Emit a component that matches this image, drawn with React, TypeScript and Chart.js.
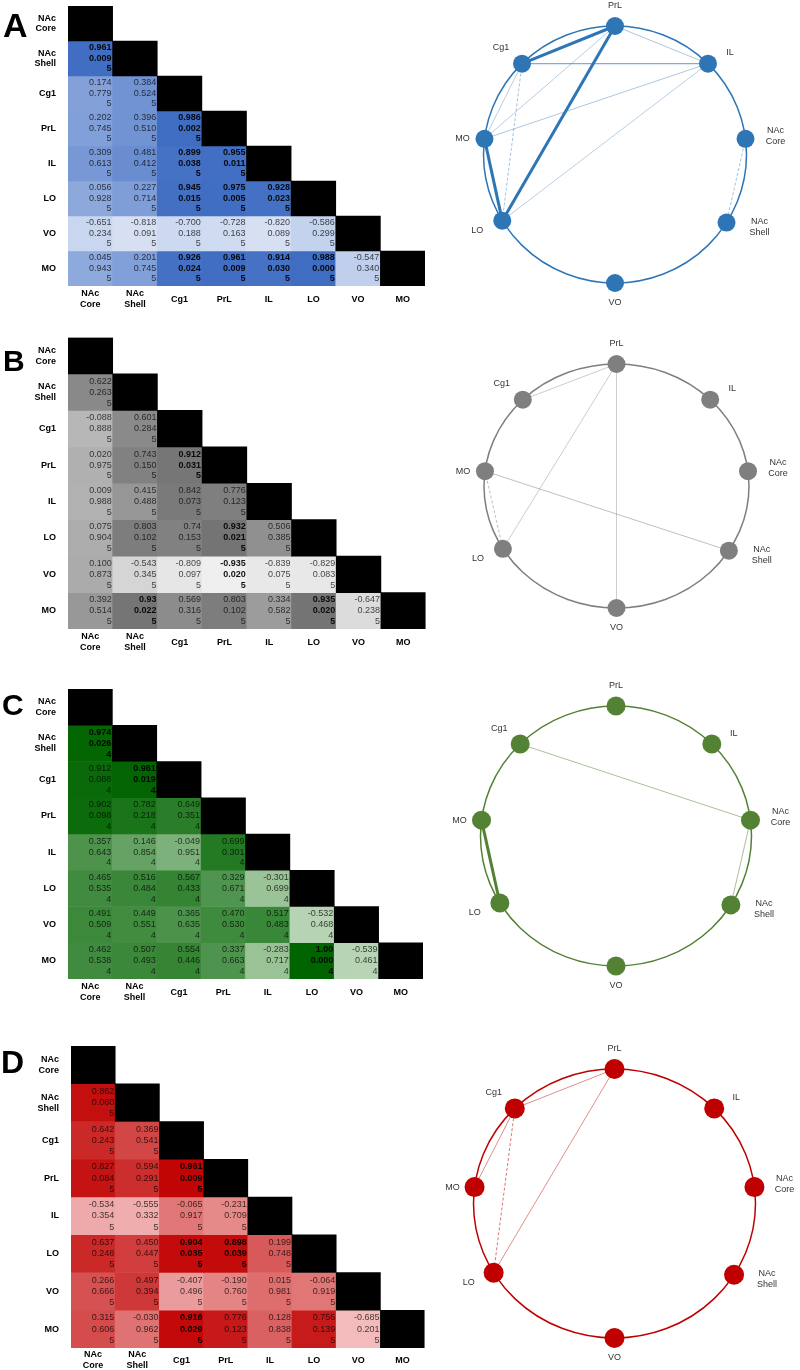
import React, { useEffect, useRef } from "react";
import { Chart, registerables } from "chart.js";
Chart.register(...registerables);

// ---------- DATA ----------
const regions = ["NAc Core", "NAc Shell", "Cg1", "PrL", "IL", "LO", "VO", "MO"];
const regionLines = [["NAc", "Core"], ["NAc", "Shell"], ["Cg1"], ["PrL"], ["IL"], ["LO"], ["VO"], ["MO"]];
// node angles on the ring (degrees), same order as regions
const nodeAngles = [7, -32, 135, 90, 45, 211, -90, 173];

const rA = [[], ["0.961"], ["0.174", "0.384"], ["0.202", "0.396", "0.986"], ["0.309", "0.481", "0.899", "0.955"],
  ["0.056", "0.227", "0.945", "0.975", "0.928"], ["-0.651", "-0.818", "-0.700", "-0.728", "-0.820", "-0.586"],
  ["0.045", "0.201", "0.926", "0.961", "0.914", "0.988", "-0.547"]];
const pA = [[], ["0.009"], ["0.779", "0.524"], ["0.745", "0.510", "0.002"], ["0.613", "0.412", "0.038", "0.011"],
  ["0.928", "0.714", "0.015", "0.005", "0.023"], ["0.234", "0.091", "0.188", "0.163", "0.089", "0.299"],
  ["0.943", "0.745", "0.024", "0.009", "0.030", "0.000", "0.340"]];
const nA = 5;

const rB = [[], ["0.622"], ["-0.088", "0.601"], ["0.020", "0.743", "0.912"], ["0.009", "0.415", "0.842", "0.776"],
  ["0.075", "0.803", "0.74", "0.932", "0.506"], ["0.100", "-0.543", "-0.809", "-0.935", "-0.839", "-0.829"],
  ["0.392", "0.93", "0.569", "0.803", "0.334", "0.935", "-0.647"]];
const pB = [[], ["0.263"], ["0.888", "0.284"], ["0.975", "0.150", "0.031"], ["0.988", "0.488", "0.073", "0.123"],
  ["0.904", "0.102", "0.153", "0.021", "0.385"], ["0.873", "0.345", "0.097", "0.020", "0.075", "0.083"],
  ["0.514", "0.022", "0.316", "0.102", "0.582", "0.020", "0.238"]];
const nB = 5;

const rC = [[], ["0.974"], ["0.912", "0.981"], ["0.902", "0.782", "0.649"], ["0.357", "0.146", "-0.049", "0.699"],
  ["0.465", "0.516", "0.567", "0.329", "-0.301"], ["0.491", "0.449", "0.365", "0.470", "0.517", "-0.532"],
  ["0.462", "0.507", "0.554", "0.337", "-0.283", "1.00", "-0.539"]];
const pC = [[], ["0.026"], ["0.088", "0.019"], ["0.098", "0.218", "0.351"], ["0.643", "0.854", "0.951", "0.301"],
  ["0.535", "0.484", "0.433", "0.671", "0.699"], ["0.509", "0.551", "0.635", "0.530", "0.483", "0.468"],
  ["0.538", "0.493", "0.446", "0.663", "0.717", "0.000", "0.461"]];
const nC = 4;

const rD = [[], ["0.862"], ["0.642", "0.369"], ["0.827", "0.594", "0.961"], ["-0.534", "-0.555", "-0.065", "-0.231"],
  ["0.637", "0.450", "0.904", "0.898", "0.199"], ["0.266", "0.497", "-0.407", "-0.190", "0.015", "-0.064"],
  ["0.315", "-0.030", "0.916", "0.776", "0.128", "0.756", "-0.685"]];
const pD = [[], ["0.060"], ["0.243", "0.541"], ["0.084", "0.291", "0.009"], ["0.354", "0.332", "0.917", "0.709"],
  ["0.248", "0.447", "0.035", "0.039", "0.748"], ["0.666", "0.394", "0.496", "0.760", "0.981", "0.919"],
  ["0.606", "0.962", "0.029", "0.123", "0.838", "0.139", "0.201"]];
const nD = 5;

// edges: [from, to, width, alpha, dashed]
const edgesA = [["PrL", "Cg1", 3, 1, 0], ["PrL", "LO", 3, 1, 0], ["MO", "LO", 3, 1, 0], ["Cg1", "IL", 1.2, 0.6, 0],
  ["PrL", "IL", 1, 0.4, 0], ["IL", "MO", 1, 0.4, 0], ["IL", "LO", 1, 0.35, 0], ["PrL", "MO", 1, 0.35, 0],
  ["Cg1", "MO", 1, 0.35, 0], ["Cg1", "LO", 1, 0.45, 1], ["NAc Core", "NAc Shell", 1, 0.45, 1]];
const edgesB = [["PrL", "Cg1", 1, 0.4, 0], ["PrL", "LO", 1, 0.4, 0], ["PrL", "VO", 1, 0.15, 0],
  ["MO", "NAc Shell", 1, 0.5, 0], ["MO", "LO", 1, 0.5, 1]];
const edgesC = [["Cg1", "NAc Core", 1, 0.5, 0], ["NAc Core", "NAc Shell", 1, 0.5, 0], ["MO", "LO", 3, 1, 0]];
const edgesD = [["PrL", "Cg1", 1, 0.45, 0], ["PrL", "LO", 1, 0.45, 0], ["Cg1", "MO", 1, 0.45, 0], ["Cg1", "LO", 1, 0.55, 1]];

// ---------- PANELS (layout / style) ----------
const FONT = "'Liberation Sans', Arial, sans-serif";

const panels = [
  { letter: "A", r: rA, p: pA, n: nA, edges: edgesA, color: [46, 117, 182], low: [230, 236, 248], high: [62, 108, 194],
    top: 0, h: 330, plot: { l: 68, r: 425, t: 6, b: 286 }, letterSize: 34, letterBase: 37, letterX: 3, xPad: 8,
    ring: { l: 483.5, r: 746.5, t: 26, b: 283 }, nodeR: 9 },
  { letter: "B", r: rB, p: pB, n: nB, edges: edgesB, color: [127, 127, 127], low: [243, 243, 243], high: [112, 112, 112],
    top: 330, h: 345, plot: { l: 68, r: 425.6, t: 337.5, b: 629 }, letterSize: 30, letterBase: 370.5, letterX: 3, xPad: 8,
    ring: { l: 484, r: 749, t: 364, b: 608 }, nodeR: 9 },
  { letter: "C", r: rC, p: pC, n: nC, edges: edgesC, color: [84, 130, 53], low: [238, 246, 234], high: [0, 100, 0],
    top: 675, h: 345, plot: { l: 68, r: 423, t: 689, b: 979 }, letterSize: 30, letterBase: 715, letterX: 2, xPad: 8,
    ring: { l: 480.5, r: 751.5, t: 706, b: 966 }, nodeR: 9.5 },
  { letter: "D", r: rD, p: pD, n: nD, edges: edgesD, color: [192, 0, 0], low: [252, 222, 222], high: [192, 0, 0],
    top: 1020, h: 350, plot: { l: 71, r: 424.6, t: 1046, b: 1348 }, letterSize: 32, letterBase: 1073, letterX: 1, xPad: 7,
    ring: { l: 473.5, r: 755.5, t: 1069, b: 1338 }, nodeR: 10 },
];

function cellColor(pn: any, r: number) {
  const t = Math.max(0, Math.min(1, (r + 1) / 2));
  const c = pn.low.map((lo: number, k: number) => Math.round(lo + (pn.high[k] - lo) * t));
  return `rgb(${c[0]},${c[1]},${c[2]})`;
}
const rgba = (c: number[], a: number) => `rgba(${c[0]},${c[1]},${c[2]},${a})`;

// ---------- MATRIX ----------
function MatrixChart({ pn }: { pn: any }) {
  const ref = useRef<HTMLCanvasElement>(null);
  useEffect(() => {
    const W = 440;
    const H = pn.h;
    const plot = pn.plot;
    const datasets = regions.map((_, i) => {
      const colors = regions.map((_, j) =>
        j === i ? "#000000" : j < i ? cellColor(pn, Number(pn.r[i][j])) : "rgba(0,0,0,0)");
      return {
        label: regions[i],
        data: regions.map((_, j) => (j <= i ? [i, i + 1] : null)),
        backgroundColor: colors,
        borderWidth: 0,
        grouped: false,
        barPercentage: 1,
        categoryPercentage: 1,
      };
    });
    const textPlugin = {
      id: "cellText",
      afterDatasetsDraw(chart: any) {
        const { ctx } = chart;
        const x = chart.scales.x;
        const y = chart.scales.y;
        const cw = x.getPixelForValue(1) - x.getPixelForValue(0);
        const rh = Math.abs(y.getPixelForValue(1) - y.getPixelForValue(0));
        ctx.save();
        ctx.textAlign = "right";
        ctx.textBaseline = "middle";
        for (let i = 1; i < regions.length; i++) {
          for (let j = 0; j < i; j++) {
            const bold = Number(pn.p[i][j]) < 0.05;
            ctx.font = `${bold ? "bold " : ""}9px ${FONT}`;
            ctx.fillStyle = bold ? "rgba(0,0,0,0.92)" : "rgba(0,0,0,0.72)";
            const xr = x.getPixelForValue(j) + cw / 2 - 1;
            const yc = y.getPixelForValue(i + 0.5);
            const lines = [pn.r[i][j], pn.p[i][j], String(pn.n)];
            lines.forEach((s: string, k: number) => ctx.fillText(s, xr, yc + (k - 1) * rh * 0.3));
          }
        }
        ctx.font = `bold ${pn.letterSize}px ${FONT}`;
        ctx.fillStyle = "#000";
        ctx.textAlign = "left";
        ctx.textBaseline = "alphabetic";
        ctx.fillText(pn.letter, pn.letterX, pn.letterBase - pn.top);
        ctx.restore();
      },
    };
    const xAxisH = H - (plot.b - pn.top);
    const chart = new Chart(ref.current as HTMLCanvasElement, {
      type: "bar",
      data: { labels: regionLines as any, datasets: datasets as any },
      options: {
        animation: false,
        responsive: false,
        events: [],
        layout: { padding: { top: plot.t - pn.top, right: W - plot.r, left: 0, bottom: 0 } },
        plugins: { legend: { display: false }, tooltip: { enabled: false } },
        scales: {
          x: {
            type: "category",
            offset: true,
            grid: { display: false, drawTicks: false },
            border: { display: false },
            ticks: {
              maxRotation: 0,
              minRotation: 0,
              autoSkip: false,
              padding: pn.xPad,
              crossAlign: "center",
              color: "#000",
              font: { family: FONT, size: 9, weight: "bold", lineHeight: 1.2 },
            },
            afterFit: (s: any) => { s.height = xAxisH; s.paddingLeft = 0; s.paddingRight = 0; },
          },
          y: {
            type: "linear",
            min: 0,
            max: regions.length,
            reverse: true,
            grid: { display: false, drawTicks: false },
            border: { display: false },
            afterBuildTicks: (s: any) => { s.ticks = regions.map((_, i) => ({ value: i + 0.5 })); },
            ticks: {
              padding: 12,
              color: "#000",
              font: { family: FONT, size: 9, weight: "bold", lineHeight: 1.2 },
              callback: (v: any) => regionLines[Math.floor(Number(v))] as any,
            },
            afterFit: (s: any) => { s.width = plot.l; s.paddingTop = 0; s.paddingBottom = 0; },
          },
        },
      } as any,
      plugins: [textPlugin],
    });
    return () => chart.destroy();
  }, [pn]);
  return (
    <canvas ref={ref} width={440} height={pn.h}
      style={{ position: "absolute", left: 0, top: pn.top, width: 440, height: pn.h }} />
  );
}

// ---------- NETWORK ----------
const labelOffsets = [[30, -3], [33, 4], [-21, -16], [0, -20], [22, -11], [-25, 10], [0, 20], [-22, 0]];

function NetworkChart({ pn }: { pn: any }) {
  const ref = useRef<HTMLCanvasElement>(null);
  useEffect(() => {
    const L = 440;
    const W = 360;
    const H = pn.h;
    const ring = pn.ring;
    const pts = nodeAngles.map((a) => ({ x: Math.cos((a * Math.PI) / 180), y: Math.sin((a * Math.PI) / 180) }));
    const idx = (name: string) => regions.indexOf(name);
    const edgeSets = pn.edges.map((e: any) => ({
      type: "scatter",
      data: [pts[idx(e[0])], pts[idx(e[1])]],
      showLine: true,
      borderColor: rgba(pn.color, e[3]),
      borderWidth: e[2],
      borderDash: e[4] ? [3, 2] : [],
      pointRadius: 0,
      clip: false,
    }));
    const nodeSet = {
      type: "scatter",
      data: pts,
      pointRadius: pn.nodeR,
      pointBackgroundColor: rgba(pn.color, 1),
      pointBorderWidth: 0,
      clip: false,
    };
    const ringPlugin = {
      id: "ring",
      beforeDatasetsDraw(chart: any) {
        const { ctx } = chart;
        const x = chart.scales.x;
        const y = chart.scales.y;
        const cx = x.getPixelForValue(0);
        const cy = y.getPixelForValue(0);
        const rx = x.getPixelForValue(1) - cx;
        const ry = cy - y.getPixelForValue(1);
        ctx.save();
        ctx.strokeStyle = rgba(pn.color, 1);
        ctx.lineWidth = 1.5;
        ctx.beginPath();
        ctx.ellipse(cx, cy, rx, ry, 0, 0, Math.PI * 2);
        ctx.stroke();
        ctx.restore();
      },
      afterDatasetsDraw(chart: any) {
        const { ctx } = chart;
        const x = chart.scales.x;
        const y = chart.scales.y;
        ctx.save();
        ctx.font = `9px ${FONT}`;
        ctx.fillStyle = "#333";
        ctx.textAlign = "center";
        ctx.textBaseline = "middle";
        pts.forEach((pt, i) => {
          const px = x.getPixelForValue(pt.x) + labelOffsets[i][0];
          const py = y.getPixelForValue(pt.y) + labelOffsets[i][1];
          const lines = regionLines[i];
          lines.forEach((s, k) => ctx.fillText(s, px, py + (k - (lines.length - 1) / 2) * 11));
        });
        ctx.restore();
      },
    };
    const chart = new Chart(ref.current as HTMLCanvasElement, {
      type: "scatter",
      data: { datasets: [nodeSet, ...edgeSets] as any },
      options: {
        animation: false,
        responsive: false,
        events: [],
        layout: {
          padding: { left: ring.l - L, right: L + W - ring.r, top: ring.t - pn.top, bottom: pn.top + H - ring.b },
        },
        plugins: { legend: { display: false }, tooltip: { enabled: false } },
        scales: {
          x: { type: "linear", min: -1, max: 1, display: false },
          y: { type: "linear", min: -1, max: 1, display: false },
        },
      } as any,
      plugins: [ringPlugin],
    });
    return () => chart.destroy();
  }, [pn]);
  return (
    <canvas ref={ref} width={360} height={pn.h}
      style={{ position: "absolute", left: 440, top: pn.top, width: 360, height: pn.h }} />
  );
}

export default function App() {
  return (
    <div style={{ position: "absolute", left: 0, top: 0, width: 800, height: 1370, background: "#fff", overflow: "hidden" }}>
      {panels.map((pn) => (
        <React.Fragment key={pn.letter}>
          <MatrixChart pn={pn} />
          <NetworkChart pn={pn} />
        </React.Fragment>
      ))}
    </div>
  );
}
